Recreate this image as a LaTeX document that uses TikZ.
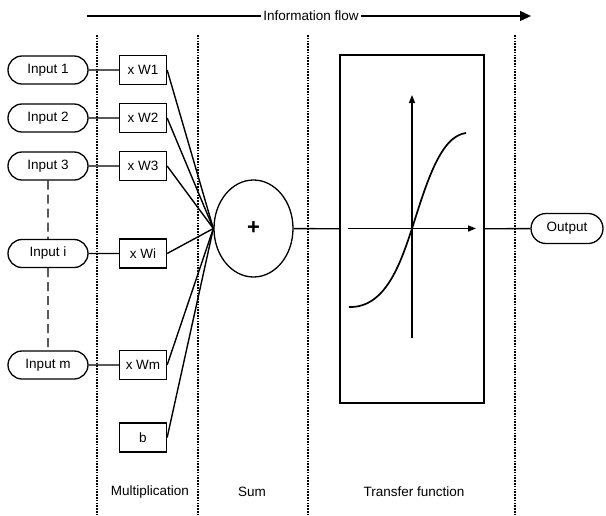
\documentclass[tikz,border=0pt]{standalone}
\usepackage{fontspec}
\setmainfont{Liberation Sans}
\usetikzlibrary{arrows.meta, positioning, shapes.misc, shapes.geometric}

\begin{document}
\begin{tikzpicture}[x=1pt, y=-1pt, line width=1.3pt,
    font=\fontsize{13.5}{15}\selectfont,
    inbox/.style={rounded rectangle, draw, minimum width=80pt, minimum height=28pt, inner sep=0pt},
    wbox/.style={rectangle, draw, minimum width=47pt, minimum height=29pt, inner sep=0pt},
    divider/.style={line width=1.4pt, dash pattern=on 1.6pt off 1.2pt},
    link/.style={line width=1.4pt}]
          \useasboundingbox (0,0) rectangle (606,515);

          % information flow
          \coordinate (f0) at (87,16);
          \node[inner sep=2pt] (flow) at (311,16) {Information flow};
          \coordinate (f1) at (531,16);
          \draw[link] (f0) -- (flow);
          \draw[link, -{Triangle[length=11pt,width=10pt]}] (flow) -- (f1);

          % stage dividers
          \foreach \x in {97,198,308,515}
            \draw[divider] (\x,35) -- (\x,515);

          % inputs
          \node[inbox] (in1) at (48,70) {Input 1};
          \node[inbox] (in2) at (48,118) {Input 2};
          \node[inbox] (in3) at (48,166) {Input 3};
          \node[inbox] (ini) at (48,253.5) {Input i};
          \node[inbox] (inm) at (48,365) {Input m};

          \draw[link, dash pattern=on 9pt off 5pt] (in3) -- (ini);
          \draw[link, dash pattern=on 9pt off 5pt] (ini) -- (inm);

          % weights
          \node[wbox] (w1) at (143,70) {x W1};
          \node[wbox] (w2) at (143,118) {x W2};
          \node[wbox] (w3) at (143,166) {x W3};
          \node[wbox] (wi) at (143,253.5) {x Wi};
          \node[wbox] (wm) at (143,365) {x Wm};
          \node[wbox] (b) at (143,437.5) {b};

          \draw[link] (in1) -- (w1);
          \draw[link] (in2) -- (w2);
          \draw[link] (in3) -- (w3);
          \draw[link] (ini) -- (wi);
          \draw[link] (inm) -- (wm);

          % sum
          \node[ellipse, draw, minimum width=79pt, minimum height=97pt, inner sep=0pt,
                font=\fontsize{22}{22}\selectfont\bfseries] (sum) at (253.5,228.5) {+};
          \foreach \w in {w1,w2,w3,wi,wm,b}
            \draw[link] (\w.east) -- (sum.west);

          % transfer function
          \node[rectangle, draw, minimum width=144pt, minimum height=348pt, inner sep=0pt] (tf) at (412,229) {};
          \node[inbox, minimum width=72pt, minimum height=30pt] (out) at (567,228.5) {Output};
          \draw[link] (sum) -- (tf);
          \draw[link] (tf) -- (out);

          \coordinate (xa) at (348,228.5);
          \coordinate (xb) at (476,228.5);
          \coordinate (ya) at (412,338);
          \coordinate (yb) at (412,95);
          \draw[link, -{Triangle[length=8pt,width=6pt]}] (xa) -- (xb);
          \draw[link, -{Triangle[length=8pt,width=6pt]}] (ya) -- (yb);
          \draw[line width=1.7pt] (349,307) .. controls (385,308) and (400,265) .. (412,228.5)
                .. controls (426,185) and (440,136) .. (466,133);

          % stage labels
          \node (lmul) at (150,492) {Multiplication};
          \node (lsum) at (252,492) {Sum};
          \node (ltf) at (414,492) {Transfer function};
        \end{tikzpicture}
\end{document}
